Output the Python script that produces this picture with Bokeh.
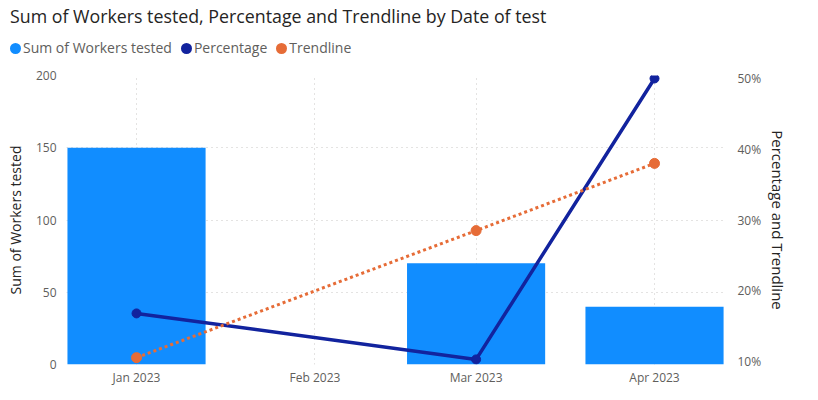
from datetime import datetime, timedelta
from bokeh.plotting import figure
from bokeh.layouts import column
from bokeh.models import (ColumnDataSource, Range1d, LinearAxis, FixedTicker,
                          NumeralTickFormatter, DatetimeTickFormatter, Div)
from bokeh.embed import file_html
from bokeh.resources import INLINE

# ---- data ----
title_text = "Sum of Workers tested, Percentage and Trendline by Date of test"
series_names = ["Sum of Workers tested", "Percentage", "Trendline"]
months = ["2023-01-01", "2023-02-01", "2023-03-01", "2023-04-01"]
month_labels = ["Jan 2023", "Feb 2023", "Mar 2023", "Apr 2023"]
bar_dates = ["2023-01-01", "2023-03-01", "2023-04-01"]
workers_tested = [150, 70, 40]
line_dates = ["2023-01-01", "2023-03-01", "2023-04-01"]
percentage = [0.168, 0.103, 0.50]
trendline = [0.1055, 0.285, 0.38]
left_ticks = [0, 50, 100, 150, 200]
right_ticks = [0.1, 0.2, 0.3, 0.4, 0.5]

FONT = "Open Sans"
BAR_C = "#118DFF"
PCT_C = "#12239E"
TR_C = "#E66C37"
SERIES_COLORS = [BAR_C, PCT_C, TR_C]
GRID_C = "#C8C6C4"
TICK_C = "#605E5C"
TITLE_C = "#252423"

W = 818
HEAD_H = 65
MAIN_H = 400 - HEAD_H

def d(s):
    return datetime.strptime(s, "%Y-%m-%d")

tick_ms = [d(m).timestamp() * 1000 for m in months]

bar_src = ColumnDataSource(dict(x=[d(s) for s in bar_dates], top=workers_tested))
line_src = ColumnDataSource(dict(x=[d(s) for s in line_dates], pct=percentage, tr=trendline))

# ---------------- header: title + legend ----------------
items_html = "".join(
    f'<span style="display:inline-block;width:11px;height:11px;border-radius:50%;'
    f'background:{c};vertical-align:-1px;margin-right:2px"></span>'
    f'<span style="margin-right:9px">{name}</span>'
    for name, c in zip(series_names, SERIES_COLORS))
head_html = (
    f'<div style="padding:5px 0 0 10px;font-family:\'{FONT}\',sans-serif;white-space:nowrap">'
    f'<div style="font-size:17.8px;line-height:22px;color:{TITLE_C}">{title_text}</div>'
    f'<div style="margin-top:12px;font-size:14px;line-height:18px;color:{TICK_C}">{items_html}</div>'
    f'</div>')
head = Div(text=head_html, width=W, height=HEAD_H, margin=0)

# ---------------- main chart ----------------
p = figure(width=W, height=MAIN_H, x_axis_type="datetime",
           x_range=Range1d(d("2022-12-19") + timedelta(hours=20), d("2023-04-13") + timedelta(hours=8)),
           y_range=Range1d(0, 200),
           output_backend="svg", toolbar_location=None, title=None,
           min_border_left=66, min_border_right=93,
           min_border_top=10, min_border_bottom=36,
           outline_line_color=None)
p.extra_y_ranges = {"pct": Range1d(0.0958, 0.5042)}

p.vbar(x="x", top="top", width=timedelta(days=24), source=bar_src,
       fill_color=BAR_C, line_color=None)
p.line("x", "pct", source=line_src, y_range_name="pct",
       line_color=PCT_C, line_width=3.5)
p.scatter("x", "pct", source=line_src, y_range_name="pct", size=9,
          fill_color=PCT_C, line_color=PCT_C)
p.line("x", "tr", source=line_src, y_range_name="pct",
       line_color=TR_C, line_width=3, line_dash="3 3")
p.scatter("x", "tr", source=line_src, y_range_name="pct", size=10,
          fill_color=TR_C, line_color=TR_C)

p.xaxis.ticker = FixedTicker(ticks=tick_ms)
p.xaxis.formatter = DatetimeTickFormatter(days="%b %Y", months="%b %Y")
p.yaxis.ticker = FixedTicker(ticks=left_ticks)
p.yaxis.axis_label = "Sum of Workers tested"

right = LinearAxis(y_range_name="pct", ticker=FixedTicker(ticks=right_ticks),
                   formatter=NumeralTickFormatter(format="0%"),
                   axis_label="Percentage and Trendline")
p.add_layout(right, "right")

for ax in [p.xaxis[0], p.yaxis[0], right]:
    ax.axis_line_color = None
    ax.major_tick_line_color = None
    ax.minor_tick_line_color = None
    ax.major_tick_out = 0
    ax.minor_tick_out = 0
    ax.major_label_text_font = FONT
    ax.major_label_text_font_size = "12px"
    ax.major_label_text_color = TICK_C
    ax.axis_label_text_font = FONT
    ax.axis_label_text_font_size = "14px"
    ax.axis_label_text_font_style = "normal"
    ax.axis_label_text_color = TITLE_C
right.axis_label_text_font_size = "15px"
p.xaxis.major_label_standoff = 4
p.yaxis.major_label_standoff = 10
p.yaxis.axis_label_standoff = 8
right.major_label_standoff = 12
right.axis_label_standoff = 4

p.xgrid.grid_line_color = GRID_C
p.xgrid.grid_line_dash = "1 4"
p.ygrid.grid_line_color = GRID_C
p.ygrid.grid_line_dash = "1 4"

layout = column(head, p, spacing=0)
open("out.html", "w").write(file_html(layout, INLINE))
